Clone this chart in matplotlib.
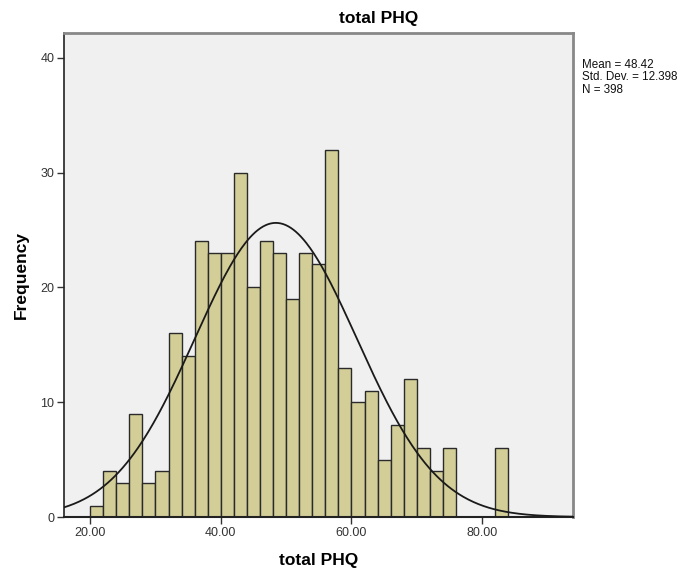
import numpy as np
import matplotlib
matplotlib.use("Agg")
import matplotlib.pyplot as plt

plt.rcParams['font.family'] = ['Liberation Sans', 'DejaVu Sans']

bin_edges_start = 20
bin_width = 2
counts = [1, 4, 3, 9, 3, 4, 16, 14, 24, 23, 23, 30, 20, 24, 23, 19, 23, 22, 32,
          13, 10, 11, 5, 8, 12, 6, 4, 6, 0, 0, 0, 6]
mean = 48.42
std = 12.398
n = 398
xticks = [20, 40, 60, 80]
xtick_labels = ["20.00", "40.00", "60.00", "80.00"]
yticks = [0, 10, 20, 30, 40]

W, H = 694, 571
fig = plt.figure(figsize=(W / 100, H / 100), dpi=100)
L, R, T, B = 64, 573, 33, 517
ax = fig.add_axes([L / W, 1 - B / H, (R - L) / W, (B - T) / H])
ax.set_facecolor('#f0f0f0')

lefts = [bin_edges_start + i * bin_width for i in range(len(counts))]
ax.bar(lefts, counts, width=bin_width, align='edge', color='#d3ce98',
       edgecolor='#2a2a2a', linewidth=1.0, zorder=2)

xmin, xmax = 16.0, 93.9
xs = np.linspace(xmin, xmax, 400)
ys = n * bin_width / (std * np.sqrt(2 * np.pi)) * np.exp(-0.5 * ((xs - mean) / std) ** 2)
ax.plot(xs, ys, color='#1a1a1a', linewidth=1.3, zorder=3)

ax.set_xlim(xmin, xmax)
ax.set_ylim(0, 42.15)
ax.set_xticks(xticks)
ax.set_xticklabels(xtick_labels)
ax.set_yticks(yticks)
ax.tick_params(axis='both', direction='out', length=5, width=1, labelsize=9,
               color='#333333', labelcolor='#333333', pad=2)

for side, col, lw in [('top', '#888888', 2.0), ('right', '#888888', 2.0),
                      ('bottom', '#222222', 1.5), ('left', '#222222', 1.2)]:
    ax.spines[side].set_color(col)
    ax.spines[side].set_linewidth(lw)

ax.set_xlabel('total PHQ', fontsize=12.5, fontweight='bold', labelpad=10)
ax.set_ylabel('Frequency', fontsize=12.5, fontweight='bold', labelpad=8)
fig.text(379 / W, 1 - 18 / H, 'total PHQ', fontsize=12.5, fontweight='bold',
         ha='center', va='center')

fig.text(582 / W, 1 - 59 / H,
         f"Mean = {mean:.2f}\nStd. Dev. = {std:.3f}\nN = {n}",
         fontsize=8.4, ha='left', va='top', linespacing=1.05, color='#111111')

fig.savefig('out.png', dpi=100)
